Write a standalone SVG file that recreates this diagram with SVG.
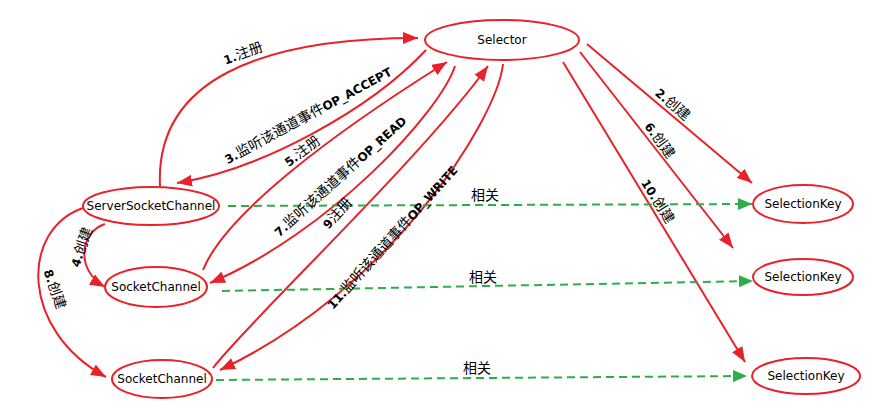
<svg xmlns="http://www.w3.org/2000/svg" width="885" height="419" viewBox="0 0 885 419">
<style>
.node{fill:#fff;stroke:#E8212B;stroke-width:2}
.nt{font-family:"DejaVu Sans",sans-serif;font-size:12px;fill:#000;text-anchor:middle}
.e{fill:none;stroke:#E8212B;stroke-width:2}
.d{fill:none;stroke:#2EAD4B;stroke-width:2;stroke-dasharray:8,5}
.lb{font-family:"Noto Sans CJK SC","Noto Sans",sans-serif;font-size:14px;fill:#000;text-anchor:middle}
.b{font-family:"DejaVu Sans",sans-serif;font-weight:bold;font-size:12px}
.rel{font-family:"Noto Sans CJK SC",sans-serif;font-size:14px;fill:#000;text-anchor:middle}
</style>
<defs>
<marker id="ar" markerUnits="userSpaceOnUse" markerWidth="16" markerHeight="12" refX="15" refY="6" orient="auto"><path d="M0,0 L15,6 L0,12 z" fill="#E8212B"/></marker>
<marker id="ag" markerUnits="userSpaceOnUse" markerWidth="15" markerHeight="12" refX="14" refY="6" orient="auto"><path d="M0,0 L14,6 L0,12 z" fill="#2EAD4B"/></marker>
</defs>
<g id="connectors">
<path class="e" d="M160,186 C155,80 260,38 418,38" marker-end="url(#ar)"/>
<path class="e" d="M426,50 C370,110 260,170 177,183" marker-end="url(#ar)"/>
<path class="e" d="M203,270 C225,215 330,135 447,62" marker-end="url(#ar)"/>
<path class="e" d="M455,66 C440,112 330,232 210,283" marker-end="url(#ar)"/>
<path class="e" d="M213,368 C245,325 420,160 488,66" marker-end="url(#ar)"/>
<path class="e" d="M503,64 C497,120 390,290 220,370" marker-end="url(#ar)"/>
<path class="e" d="M587,44 L752,183" marker-end="url(#ar)"/>
<path class="e" d="M580,52 L733,248" marker-end="url(#ar)"/>
<path class="e" d="M563,62 L745,362" marker-end="url(#ar)"/>
<path class="e" d="M105,224 C80,232 75,270 105,287" marker-end="url(#ar)"/>
<path class="e" d="M83,208 C20,230 20,330 106,377" marker-end="url(#ar)"/>
<path class="d" d="M228,206 L752,204" marker-end="url(#ag)"/>
<path class="d" d="M222,291 L753,281" marker-end="url(#ag)"/>
<path class="d" d="M216,380 L747,376" marker-end="url(#ag)"/>
<text class="lb" transform="translate(243,53) rotate(-20)" y="5"><tspan class="b">1.</tspan>注册</text>
<text class="lb" transform="translate(308,115) rotate(-28.5)" y="5"><tspan class="b">3.</tspan>监听该通道事件<tspan class="b">OP_ACCEPT</tspan></text>
<text class="lb" transform="translate(302,151) rotate(-37)" y="5"><tspan class="b">5.</tspan>注册</text>
<text class="lb" transform="translate(340,176) rotate(-42)" y="5"><tspan class="b">7.</tspan>监听该通道事件<tspan class="b">OP_READ</tspan></text>
<text class="lb" transform="translate(337,213) rotate(-48)" y="5"><tspan class="b">9</tspan>注册</text>
<text class="lb" transform="translate(392,237) rotate(-48)" y="5"><tspan class="b">11.</tspan>监听该通道事件<tspan class="b">OP_WRITE</tspan></text>
<text class="lb" transform="translate(673,104) rotate(41)" y="5"><tspan class="b">2.</tspan>创建</text>
<text class="lb" transform="translate(660,140) rotate(54)" y="5"><tspan class="b">6.</tspan>创建</text>
<text class="lb" transform="translate(658,201) rotate(58)" y="5"><tspan class="b">10.</tspan>创建</text>
<text class="lb" transform="translate(81,247) rotate(-71)" y="5"><tspan class="b">4.</tspan>创建</text>
<text class="lb" transform="translate(55,289) rotate(71)" y="5"><tspan class="b">8.</tspan>创建</text>
<text class="rel" x="485" y="200">相关</text>
<text class="rel" x="483" y="282">相关</text>
<text class="rel" x="477" y="373">相关</text>
</g>
<g id="selector"><ellipse class="node" cx="502" cy="40" rx="77" ry="20"/><text class="nt" x="502" y="44">Selector</text></g>
<g id="serverSocketChannel"><ellipse class="node" cx="151" cy="206" rx="68" ry="19"/><text class="nt" x="151" y="210">ServerSocketChannel</text></g>
<g id="socketChannel1"><ellipse class="node" cx="156" cy="287" rx="51" ry="20"/><text class="nt" x="156" y="291">SocketChannel</text></g>
<g id="socketChannel2"><ellipse class="node" cx="162" cy="379" rx="50" ry="19"/><text class="nt" x="162" y="383">SocketChannel</text></g>
<g id="selectionKey1"><ellipse class="node" cx="803" cy="204" rx="50" ry="19"/><text class="nt" x="803" y="208">SelectionKey</text></g>
<g id="selectionKey2"><ellipse class="node" cx="803" cy="277" rx="50" ry="18"/><text class="nt" x="803" y="281">SelectionKey</text></g>
<g id="selectionKey3"><ellipse class="node" cx="806" cy="376" rx="54" ry="18"/><text class="nt" x="806" y="380">SelectionKey</text></g>
</svg>
